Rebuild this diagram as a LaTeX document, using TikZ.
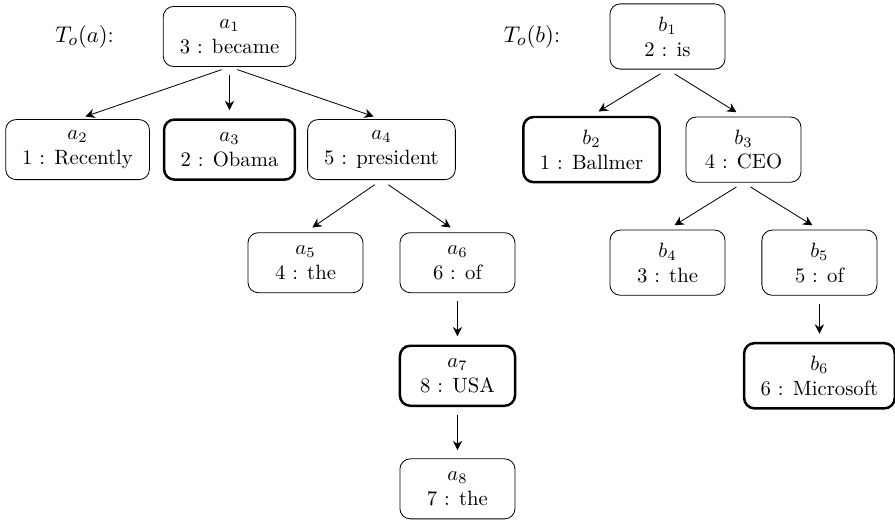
\documentclass[tikz,border=0pt]{standalone}
\usetikzlibrary{positioning,arrows.meta}

\begin{document}
\begin{tikzpicture}
  [thin, >={Stealth[length=4.5pt, width=4.5pt, inset=1.5pt]}, on grid,
   node distance=1.92cm and 2.58cm,
   word/.style={rectangle, draw, rounded corners=5pt, align=center,
     minimum width=55.6pt, minimum height=29pt, inner xsep=8pt},
   head/.style={word, line width=1.2pt},
   title/.style={font=\fontsize{11}{13}\selectfont},
   dep/.style={->, shorten <=4pt, shorten >=4pt}]

  \useasboundingbox (0,0) rectangle (15.196,-8.846);

  % tree of sentence a
  \node [word] (a1) at (3.897,-0.620) {$a_1$\\3 : became};
  \node [title, left=2.46cm of a1] (Ta) {$T_o(a)$:};
  \node [word, below left=of a1] (a2) {$a_2$\\1 : Recently};
  \node [head, below=of a1] (a3) {$a_3$\\2 : Obama};
  \node [word, below right=of a1] (a4) {$a_4$\\5 : president};
  \node [word, below left=1.92cm and 1.29cm of a4] (a5) {$a_5$\\4 : the};
  \node [word, below right=1.92cm and 1.29cm of a4] (a6) {$a_6$\\6 : of};
  \node [head, below=of a6] (a7) {$a_7$\\8 : USA};
  \node [word, below=of a7] (a8) {$a_8$\\7 : the};

  % tree of sentence b
  \begin{scope}[word/.append style={minimum height=31.5pt}]
    \node [word] (b1) at (11.333,-0.620) {$b_1$\\2 : is};
    \node [title, left=2.30cm of b1] (Tb) {$T_o(b)$:};
    \node [head, below left=1.92cm and 1.29cm of b1] (b2) {$b_2$\\1 : Ballmer};
    \node [word, below right=1.92cm and 1.29cm of b1] (b3) {$b_3$\\4 : CEO};
    \node [word, below left=1.92cm and 1.29cm of b3] (b4) {$b_4$\\3 : the};
    \node [word, below right=1.92cm and 1.29cm of b3] (b5) {$b_5$\\5 : of};
    \node [head, below=of b5] (b6) {$b_6$\\6 : Microsoft};
  \end{scope}

  \foreach \p/\c in {a1/a2, a1/a3, a1/a4, a4/a5, a4/a6, a6/a7, a7/a8,
                     b1/b2, b1/b3, b3/b4, b3/b5, b5/b6}
    \draw [dep] (\p.south) -- (\c.north);
\end{tikzpicture}
\end{document}
